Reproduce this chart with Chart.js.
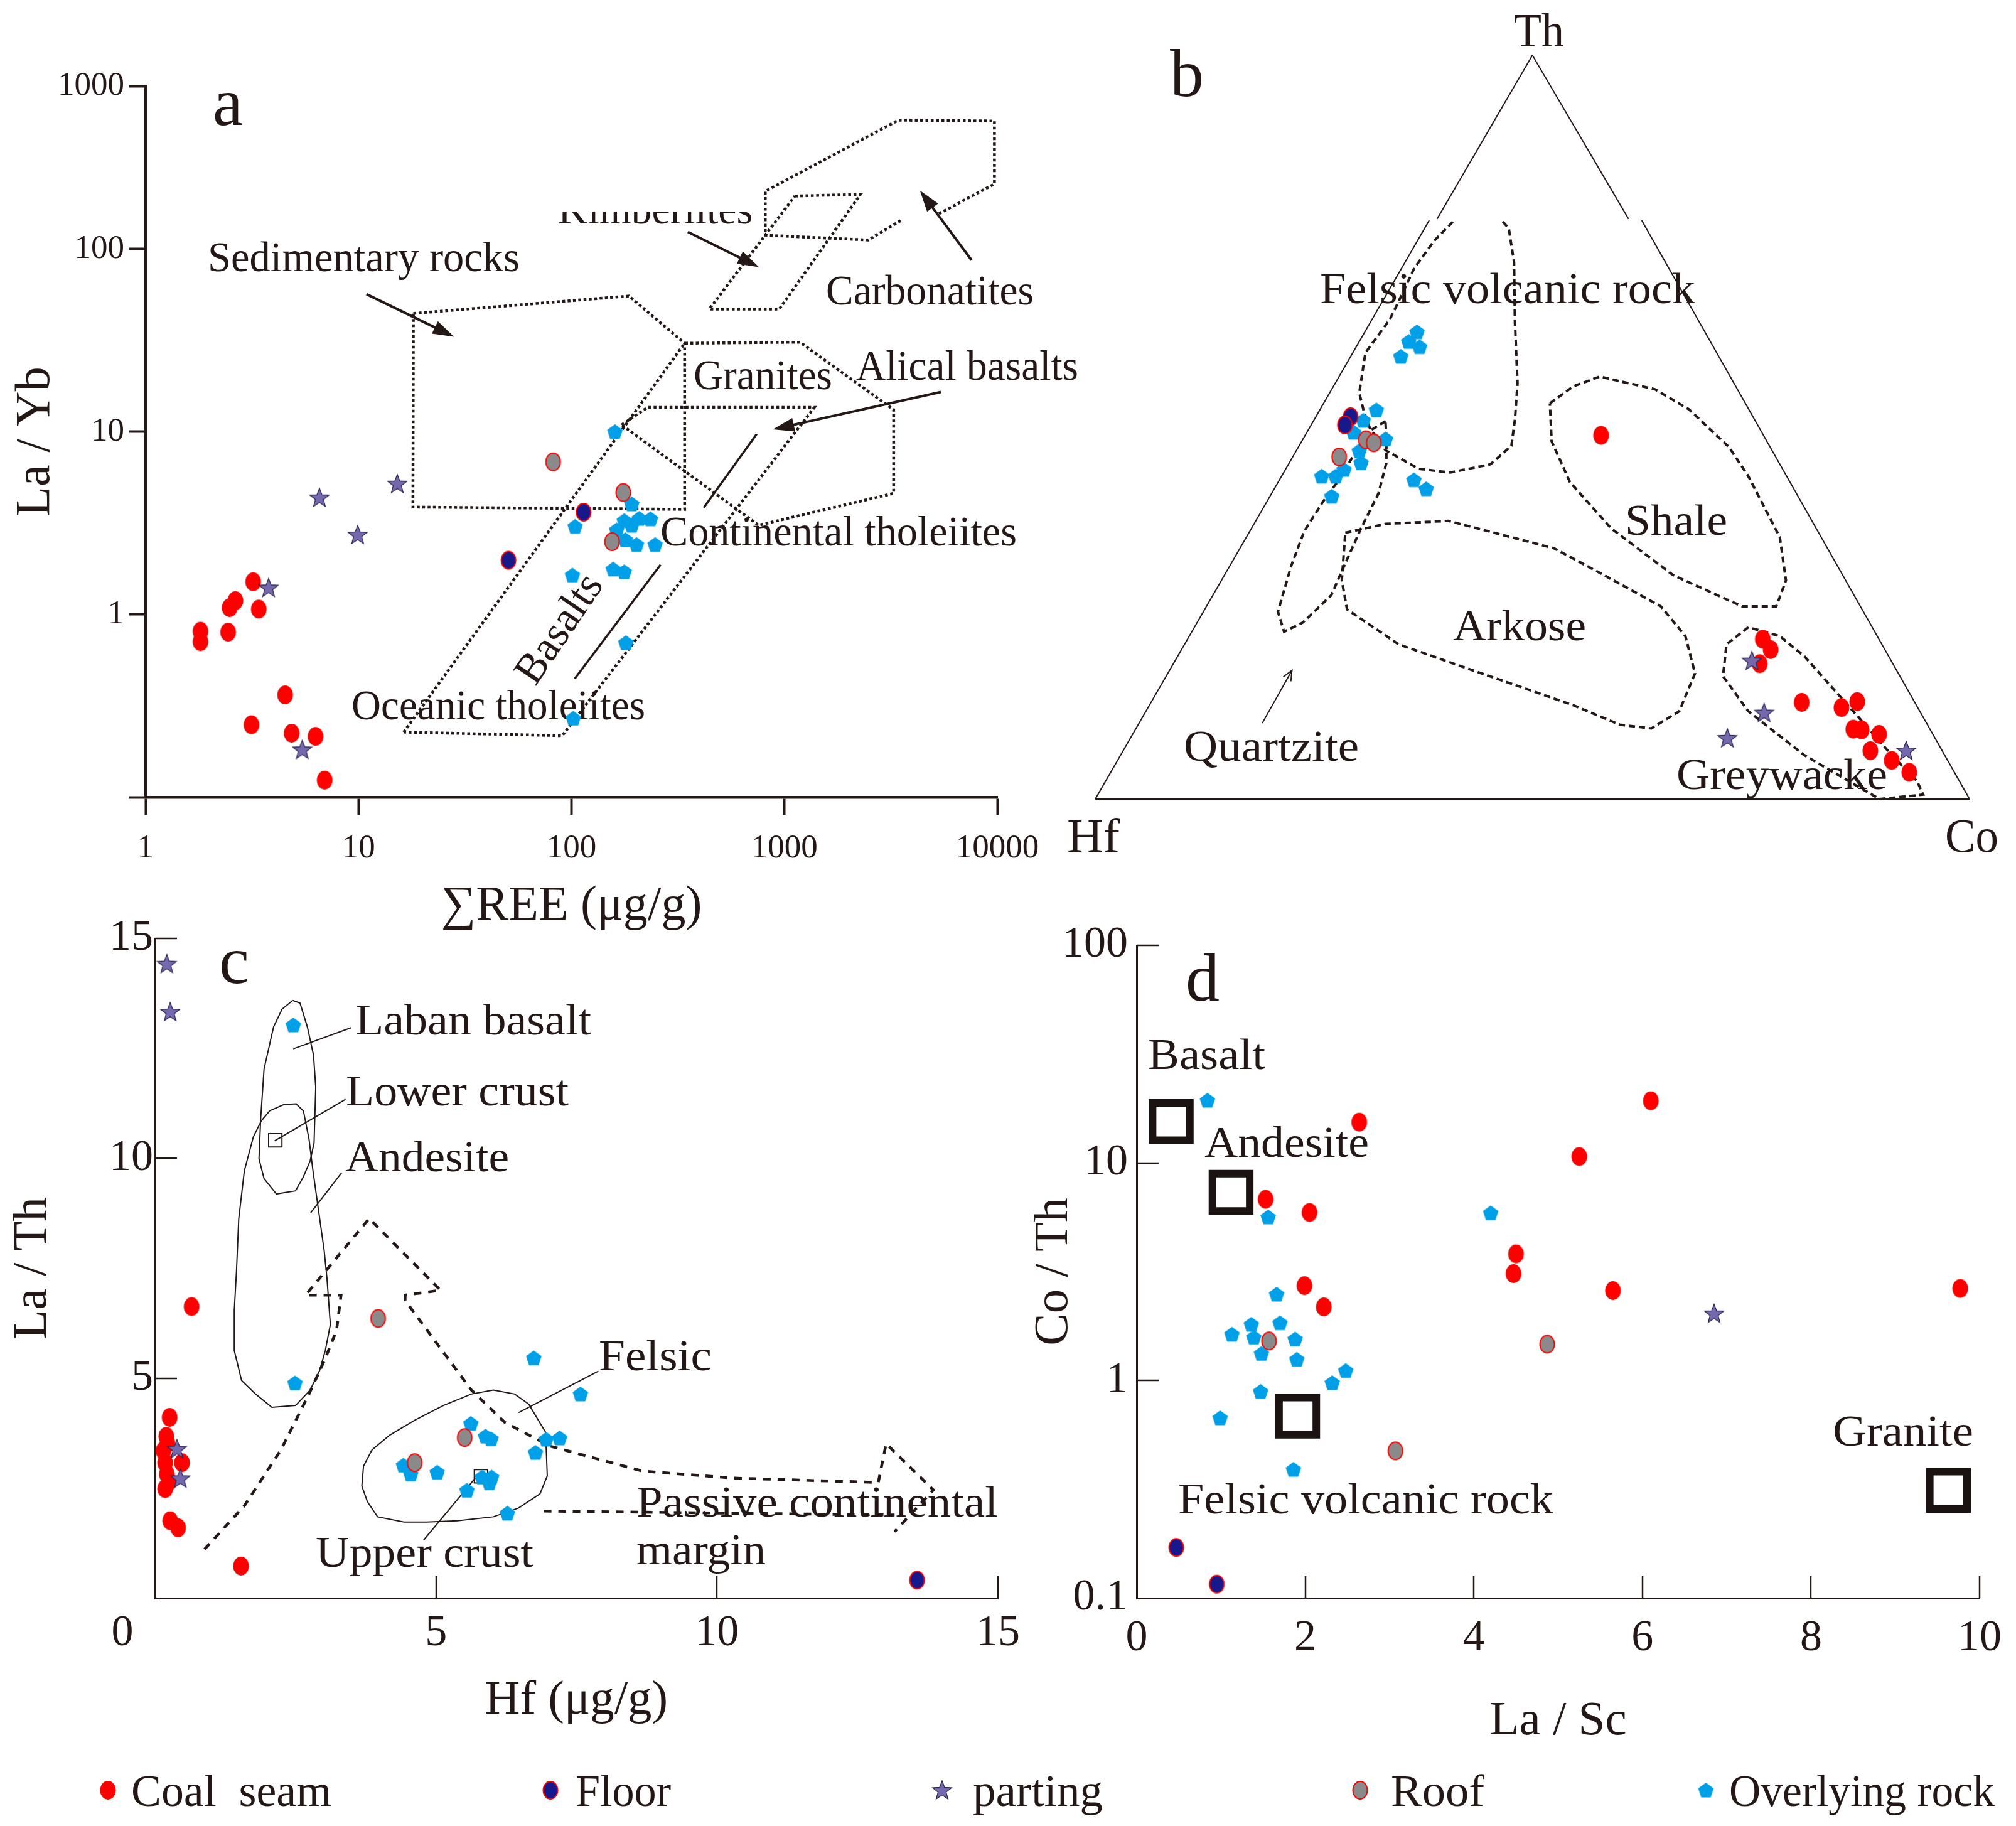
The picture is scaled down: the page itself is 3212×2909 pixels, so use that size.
<!DOCTYPE html>
<html>
<head>
<meta charset="utf-8">
<title>Provenance discrimination diagrams</title>
<script src="https://cdn.jsdelivr.net/npm/chart.js@4.4.1/dist/chart.umd.min.js"></script>
<style>
  html, body { margin: 0; padding: 0; background: #fff; }
  body { position: relative; width: 3212px; height: 2909px; overflow: hidden; }
  canvas { position: absolute; }
</style>
</head>
<body>
<canvas id="chartA" width="1760" height="1500" style="left:0;top:0;width:1760px;height:1500px"></canvas>
<canvas id="chartB" width="1562" height="1450" style="left:1650px;top:0;width:1562px;height:1450px"></canvas>
<canvas id="chartC" width="1650" height="1400" style="left:0;top:1450px;width:1650px;height:1400px"></canvas>
<canvas id="chartD" width="1622" height="1400" style="left:1590px;top:1450px;width:1622px;height:1400px"></canvas>
<canvas id="legend" width="3212" height="129" style="left:0;top:2780px;width:3212px;height:129px"></canvas>
<script>
const INK = '#231815';
const FONT = '"Liberation Serif", "Times New Roman", serif';

// ---------- a: La/Yb vs sum REE ----------
const aCoal = [[1.81,0.81],[1.81,0.71],[2.44,0.80],[2.48,1.09],[2.64,1.19],[3.2,1.51],[3.4,1.07],[4.52,0.363],[3.14,0.249],[4.85,0.224],[6.28,0.215],[6.93,0.124]];
const aFloor = [[50.6,1.98],[114,3.63]];
const aParting = [[3.78,1.40],[6.55,4.36],[9.9,2.73],[15.2,5.19],[5.44,0.182]];
const aRoof = [[82,6.84],[175,4.65],[155,2.5]];
const aOverlying = [[160,10.0],[192,4.02],[104,3.03],[177,3.26],[192,3.07],[208,3.35],[235,3.33],[163,2.9],[179,2.56],[202,2.41],[247,2.41],[101,1.64],[157,1.77],[177,1.71],[180,0.70],[102,0.27]];
const aTicksX = [1, 10, 100, 1000, 10000];
const aTicksY = [0.1, 1, 10, 100, 780];
const aTickLabelsY = ['', '1', '10', '100', '1000'];
// fields
const aSedimentary = [[18.1,44.4],[186,55.3],[340,30.5],[340,3.76],[18.0,3.87],[18.1,44.4]];
const aGranites = [[16.3,0.227],[340,30.5],[1183,30.9],[3260,13.2],[3260,4.60],[756,3.08],[172,10.9]];
const aBasaltBand = [[172,10.9],[228,13.6],[1383,13.6],[90.4,0.217],[16.3,0.227]];
const aCarbonatites = [[3515,143],[2473,112],[813,119],[813,207],[3426,507],[9690,502],[9690,227],[5260,155]];
const aKimberlites = [[1120,195],[2276,199],[946,46.9],[444,46.9],[1120,195]];
const aBasaltLine = [[103.6,0.445],[262,1.87]];
const aContLine = [[418,3.84],[741,9.71]];

// ---------- b: Th-Hf-Co ternary, [Th, Co, Hf] % ----------
const bCoal = [[48.9,33.4,17.7],[21.5,65.6,12.9],[20.1,67.2,12.7],[18.2,66.9,14.9],[13.0,74.3,12.7],[12.3,79.2,8.5],[13.1,80.6,6.3],[9.4,82.0,8.6],[9.3,83.0,7.7],[8.7,85.3,6.0],[6.5,85.4,8.1],[5.2,88.5,6.3],[3.6,91.3,5.1]];
const bFloor = [[51.4,3.5,45.1],[50.3,3.4,46.3]];
const bParting = [[18.6,65.8,15.6],[11.6,70.7,17.7],[8.2,68.2,23.6],[6.5,89.5,4.0]];
const bRoof = [[48.3,6.8,44.9],[47.9,7.9,44.2],[46.0,4.9,49.1]];
const bOverlying = [[62.8,5.4,31.8],[61.5,5.1,33.4],[60.8,6.7,32.5],[59.5,5.2,35.3],[52.3,6.0,41.7],[50.9,5.2,43.9],[49.3,4.9,45.8],[48.4,9.0,42.6],[46.8,6.8,46.4],[45.2,7.8,47.0],[44.3,6.3,49.4],[43.4,5.8,50.8],[43.4,4.2,52.4],[42.9,15.0,42.1],[41.7,17.0,41.3],[40.7,6.7,52.6]];
// fields, in plot frame (x: Hf->Co, y: base->Th)
const bFelsic = [[40.9,77.6],[38.8,75.1],[36.5,71.4],[34.7,66.9],[33.7,64.5],[30.9,60.0],[30.2,54.6],[30.7,52.2],[31.4,49.9],[33.2,46.9],[37.0,44.4],[40.6,43.9],[45.2,45.0],[47.6,47.5],[48.0,51.0],[48.3,55.9],[48.0,64.1],[47.9,72.2],[47.3,76.7],[46.5,77.8]];
const bQuartzite = [[33.2,50.8],[31.4,49.5],[29.7,46.5],[27.8,42.8],[26.0,39.9],[23.9,36.0],[22.4,31.3],[20.9,25.2],[21.6,22.5],[23.7,23.7],[27.0,27.4],[28.0,30.1],[30.4,36.4],[32.4,41.1],[33.3,45.2],[33.3,48.1],[33.2,50.8]];
const bArkose = [[28.6,35.8],[33.2,37.0],[40.4,37.4],[52.5,33.7],[58.2,30.1],[64.7,25.9],[67.5,21.9],[68.6,16.9],[66.8,11.8],[63.6,9.5],[60.0,10.0],[54.7,12.6],[43.2,17.3],[34.7,20.8],[28.8,25.5],[28.2,29.4],[28.6,35.8]];
const bShale = [[52.0,53.2],[54.7,55.5],[57.7,56.8],[64.0,55.1],[67.9,52.4],[72.5,47.3],[74.7,43.4],[78.3,35.2],[79.0,29.4],[77.9,25.9],[74.0,25.9],[66.1,30.1],[59.0,36.4],[54.3,42.6],[52.2,48.1],[52.0,53.2]];
const bGreywacke = [[74.7,23.1],[72.2,20.8],[71.8,16.5],[74.7,11.8],[81.1,5.9],[89.7,0],[94.7,0.6],[94.0,2.4],[91.1,5.9],[87.6,10.6],[81.1,19.2],[78.3,21.9],[74.7,23.1]];
const bEdges = [[[50,100],[39.1,78]],[[38.2,77.8],[0,0]],[[50,100],[61,78]],[[62.5,77.8],[100,0]],[[0,0],[100,0]]];

// ---------- c: La/Th vs Hf ----------
const cCoal = [[0.65,6.63],[0.26,4.11],[0.20,3.68],[0.22,3.52],[0.15,3.35],[0.18,3.08],[0.48,3.08],[0.21,2.82],[0.25,2.65],[0.18,2.49],[0.27,1.76],[0.41,1.60],[1.53,0.73]];
const cFloor = [[13.56,0.41]];
const cParting = [[0.21,14.42],[0.27,13.33],[0.39,3.39],[0.45,2.72]];
const cRoof = [[3.97,6.36],[5.51,3.65],[4.62,3.08]];
const cOverlying = [[2.46,13.03],[2.49,4.89],[6.74,5.46],[7.57,4.64],[5.62,3.97],[5.88,3.68],[5.98,3.62],[6.96,3.61],[7.20,3.64],[6.77,3.31],[4.42,3.02],[4.55,2.82],[5.02,2.86],[5.82,2.75],[5.99,2.75],[5.95,2.62],[5.55,2.45],[6.27,1.93]];
const cCrust = [[2.14,10.41],[5.80,2.77]];
const cTicks = [0, 5, 10, 15];
const cLaban = [[2.45,13.59],[2.58,13.53],[2.71,12.99],[2.82,12.35],[2.86,11.62],[2.83,10.35],[2.76,9.94],[2.64,9.58],[2.50,9.26],[2.16,9.19],[1.94,9.54],[1.85,9.99],[1.88,10.90],[1.94,12.03],[2.11,12.99],[2.26,13.39],[2.45,13.59]];
const cAndesite = [[2.04,11.08],[2.29,11.22],[2.51,11.24],[2.64,11.08],[2.74,10.44],[2.81,9.72],[2.91,8.81],[3.01,7.90],[3.06,7.27],[3.12,6.22],[3.03,5.63],[2.93,5.18],[2.76,4.73],[2.50,4.38],[2.08,4.34],[1.79,4.64],[1.54,4.95],[1.41,5.63],[1.41,6.54],[1.45,7.45],[1.49,8.63],[1.59,9.72],[1.75,10.49],[1.89,10.85],[2.04,11.08]];
const cFelsic = [[3.71,3.00],[3.86,3.37],[4.18,3.71],[4.63,4.05],[5.13,4.38],[5.63,4.64],[6.02,4.73],[6.40,4.64],[6.65,4.41],[6.95,3.77],[6.98,2.78],[6.85,2.37],[6.47,2.05],[6.02,1.85],[5.38,1.76],[4.83,1.73],[4.43,1.73],[3.96,1.85],[3.78,2.19],[3.68,2.55],[3.71,3.00]];
const cArrow = [[0.88,1.11],[1.59,2.10],[2.24,3.37],[2.74,4.64],[3.03,5.45],[3.23,6.09],[3.31,6.89],[2.68,6.89],[3.81,8.63],[5.08,7.00],[4.45,6.89],[4.45,6.77],[5.63,4.73],[6.22,4.00],[7.02,3.46],[8.67,2.89],[10.28,2.73],[12.87,2.63],[13.01,3.51],[13.85,2.46],[13.16,1.51]];
const cMarginLine = [[6.92,1.98],[13.16,1.89]];
const cLeaders = [[[2.46,12.49],[3.49,12.97]],[[2.13,10.40],[3.39,11.34]],[[2.77,8.76],[3.32,9.67]],[[6.47,4.22],[7.89,5.16]],[[4.78,1.32],[5.70,2.73]]];

// ---------- d: Co/Th vs La/Sc ----------
const dCoal = [[2.64,15.4],[6.10,19.3],[5.25,10.7],[1.53,6.81],[2.05,5.92],[4.50,3.82],[4.47,3.10],[5.65,2.59],[9.77,2.65],[1.99,2.73],[2.22,2.18]];
const dFloor = [[0.47,0.171],[0.95,0.116]];
const dParting = [[6.85,2.03]];
const dRoof = [[1.57,1.52],[4.87,1.47],[3.07,0.475]];
const dOverlying = [[0.84,19.4],[1.56,5.64],[4.20,5.89],[1.66,2.49],[1.36,1.81],[1.70,1.84],[1.13,1.63],[1.39,1.58],[1.88,1.55],[1.48,1.33],[1.90,1.25],[2.48,1.11],[2.32,0.976],[1.47,0.89],[0.99,0.673],[1.86,0.39]];
const dReference = [[0.41,15.5],[1.12,7.33],[1.91,0.686],[9.63,0.313]];
const dTicksX = [0, 2, 4, 6, 8, 10];
const dTicksY = [0.1, 1, 10, 100];

const legendNames = ['Coal  seam', 'Floor', 'parting', 'Roof', 'Overlying rock'];

// ---------- markers ----------
function ellipseMarker(fill, ring) {
  const c = document.createElement('canvas');
  c.width = 28; c.height = 32;
  const g = c.getContext('2d');
  g.beginPath();
  g.ellipse(14, 16, ring ? 11.5 : 12.5, ring ? 14 : 15, 0, 0, Math.PI * 2);
  g.fillStyle = fill;
  g.fill();
  if (ring) { g.lineWidth = 2; g.strokeStyle = ring; g.stroke(); }
  return c;
}
function starMarker() {
  const c = document.createElement('canvas');
  c.width = 34; c.height = 34;
  const g = c.getContext('2d');
  g.beginPath();
  for (let i = 0; i < 10; i++) {
    const r = i % 2 ? 6.8 : 16;
    const a = -Math.PI / 2 + i * Math.PI / 5;
    g.lineTo(17 + r * Math.cos(a), 18 + r * Math.sin(a));
  }
  g.closePath();
  g.fillStyle = '#7568ad';
  g.fill();
  g.lineWidth = 1.3;
  g.strokeStyle = '#2b2550';
  g.stroke();
  return c;
}
function pentMarker() {
  const c = document.createElement('canvas');
  c.width = 27; c.height = 26;
  const g = c.getContext('2d');
  g.beginPath();
  for (let i = 0; i < 5; i++) {
    const a = -Math.PI / 2 + i * 2 * Math.PI / 5;
    g.lineTo(13.5 + 13 * Math.cos(a), 14 + 13 * Math.sin(a));
  }
  g.closePath();
  g.fillStyle = '#00a0e9';
  g.fill();
  return c;
}
const mk = {
  coal: ellipseMarker('#ff0000', null),
  floor: ellipseMarker('#17188c', '#ff0000'),
  part: starMarker(),
  roof: ellipseMarker('#8a8a8a', '#ff0000'),
  over: pentMarker()
};

// ---------- helpers ----------
function xy(arr) { return arr.map(p => ({ x: p[0], y: p[1] })); }
function tern(arr) {
  return arr.map(p => {
    const s = p[0] + p[1] + p[2];
    return { x: (p[1] + p[0] / 2) / s * 100, y: p[0] / s * 100 };
  });
}
function series(data, img) {
  return { data: data, pointStyle: img, pointRadius: 14, pointHoverRadius: 14, clip: false, order: 0 };
}
function path(arr, width, dash) {
  return {
    data: xy(arr), showLine: true, pointRadius: 0, pointHoverRadius: 0,
    borderColor: INK, borderWidth: width, borderDash: dash || [], borderCapStyle: 'butt',
    tension: 0, fill: false, clip: false, order: 5
  };
}
function pointSets(coal, floor, part, roof, over) {
  // first dataset is drawn on top
  return [series(part, mk.part), series(roof, mk.roof), series(floor, mk.floor), series(over, mk.over), series(coal, mk.coal)];
}

function drawText(ctx, t) {
  ctx.save();
  if (t.clipTop !== undefined) {
    ctx.beginPath();
    ctx.rect(0, t.clipTop, ctx.canvas.width, ctx.canvas.height);
    ctx.clip();
  }
  ctx.font = t.size + 'px ' + FONT;
  ctx.fillStyle = INK;
  ctx.textBaseline = t.mid ? 'middle' : 'alphabetic';
  ctx.translate(t.x, t.y);
  if (t.rot) ctx.rotate(t.rot * Math.PI / 180);
  const m = ctx.measureText(t.text).width;
  if (t.w) ctx.scale(t.w / m, 1);
  ctx.fillText(t.text, t.mid ? -m / 2 : 0, 0);
  ctx.restore();
}

function drawArrow(ctx, x1, y1, x2, y2, open) {
  const ang = Math.atan2(y2 - y1, x2 - x1);
  const L = open ? 16 : 34, H = open ? 7 : 11;
  const cos = Math.cos(ang), sin = Math.sin(ang);
  ctx.lineWidth = open ? 2 : 4;
  ctx.beginPath();
  ctx.moveTo(x1, y1);
  ctx.lineTo(open ? x2 : x2 - L * 0.8 * cos, open ? y2 : y2 - L * 0.8 * sin);
  ctx.stroke();
  const bx = x2 - L * cos, by = y2 - L * sin;
  const nx = -sin * H, ny = cos * H;
  ctx.beginPath();
  if (open) {
    ctx.moveTo(bx + nx, by + ny); ctx.lineTo(x2, y2); ctx.lineTo(bx - nx, by - ny); ctx.stroke();
  } else {
    ctx.moveTo(x2, y2); ctx.lineTo(bx + nx, by + ny); ctx.lineTo(bx - nx, by - ny); ctx.closePath(); ctx.fill();
  }
}

// texts under the marks, arrows and inner tick marks on top
function overlay(cfg) {
  return {
    id: 'overlay',
    beforeDatasetsDraw(chart) {
      (cfg.texts || []).forEach(t => drawText(chart.ctx, t));
    },
    afterDatasetsDraw(chart) {
      const ctx = chart.ctx, sx = chart.scales.x, sy = chart.scales.y, area = chart.chartArea;
      ctx.save();
      ctx.strokeStyle = INK;
      ctx.fillStyle = INK;
      ctx.lineWidth = 2.5;
      (cfg.innerX || []).forEach(v => {
        const p = Math.round(sx.getPixelForValue(v));
        ctx.beginPath(); ctx.moveTo(p, area.bottom); ctx.lineTo(p, area.bottom - cfg.tick); ctx.stroke();
      });
      (cfg.innerY || []).forEach(v => {
        const p = Math.round(sy.getPixelForValue(v));
        ctx.beginPath(); ctx.moveTo(area.left, p); ctx.lineTo(area.left + cfg.tick, p); ctx.stroke();
      });
      (cfg.arrows || []).forEach(a => {
        drawArrow(ctx, sx.getPixelForValue(a.from[0]), sy.getPixelForValue(a.from[1]),
          sx.getPixelForValue(a.to[0]), sy.getPixelForValue(a.to[1]), a.open);
      });
      ctx.restore();
    }
  };
}

const baseOptions = {
  responsive: false,
  animation: false,
  devicePixelRatio: 1,
  events: [],
  plugins: { legend: { display: false }, tooltip: { enabled: false } }
};

// ---------- chart a ----------
new Chart(document.getElementById('chartA'), {
  type: 'scatter',
  data: {
    datasets: pointSets(xy(aCoal), xy(aFloor), xy(aParting), xy(aRoof), xy(aOverlying)).concat([
      path(aSedimentary, 4.5, [4.5, 4]),
      path(aGranites, 4.5, [4.5, 4]),
      path(aBasaltBand, 4.5, [4.5, 4]),
      path(aCarbonatites, 4.5, [4.5, 4]),
      path(aKimberlites, 4.5, [4.5, 4]),
      path(aBasaltLine, 3.5),
      path(aContLine, 3.5)
    ])
  },
  options: Object.assign({}, baseOptions, {
    layout: { padding: { left: 0, top: 137, right: 171, bottom: 0 } },
    scales: {
      x: {
        type: 'logarithmic', min: 1, max: 10000,
        afterBuildTicks: s => { s.ticks = aTicksX.map(v => ({ value: v })); },
        afterFit: s => { s.height = 230; },
        ticks: { callback: v => String(v), color: INK, font: { family: FONT, size: 53 }, padding: 22, maxRotation: 0, autoSkip: false },
        grid: { display: true, drawOnChartArea: false, drawTicks: true, tickLength: 28, tickWidth: 4, tickColor: INK, color: INK },
        border: { display: true, color: INK, width: 4.5 },
        title: { display: true, text: '\u2211REE (\u03bcg/g)', color: INK, font: { family: FONT, size: 78 }, padding: { top: 0, bottom: 9 } }
      },
      y: {
        type: 'logarithmic', min: 0.1, max: 780,
        afterBuildTicks: s => { s.ticks = aTicksY.map(v => ({ value: v })); },
        afterFit: s => { s.width = 232; },
        ticks: { callback: (v, i) => aTickLabelsY[i], color: INK, font: { family: FONT, size: 53 }, padding: 7, autoSkip: false },
        grid: { display: true, drawOnChartArea: false, drawTicks: true, tickLength: 27, tickWidth: 4, tickColor: INK, color: INK },
        border: { display: true, color: INK, width: 4.5 },
        title: { display: true, text: 'La / Yb', color: INK, font: { family: FONT, size: 78 }, padding: { top: 11, bottom: 0 } }
      }
    }
  }),
  plugins: [overlay({
    texts: [
      { text: 'a', x: 339, y: 199, size: 108 },
      { text: 'Sedimentary rocks', x: 331, y: 432, size: 68, w: 497 },
      { text: 'Kimberlites', x: 889, y: 356, size: 68, w: 310, clipTop: 337 },
      { text: 'Carbonatites', x: 1316, y: 485, size: 68, w: 331 },
      { text: 'Granites', x: 1105, y: 620, size: 68, w: 221 },
      { text: 'Alical basalts', x: 1364, y: 605, size: 68, w: 354 },
      { text: 'Continental tholeiites', x: 1052, y: 869, size: 68, w: 568 },
      { text: 'Oceanic tholeiites', x: 560, y: 1146, size: 68, w: 468 },
      { text: 'Basalts', x: 893, y: 1003, size: 68, w: 196, rot: -56, mid: true }
    ],
    arrows: [
      { from: [10.9, 56.6], to: [28.1, 33.1] },
      { from: [352, 124], to: [759, 79.6] },
      { from: [7570, 86.9], to: [4330, 209] },
      { from: [5430, 16.5], to: [883, 10.3] }
    ]
  })]
});

// ---------- chart b ----------
new Chart(document.getElementById('chartB'), {
  type: 'scatter',
  data: {
    datasets: pointSets(tern(bCoal), tern(bFloor), tern(bParting), tern(bRoof), tern(bOverlying))
      .concat(bEdges.map(e => path(e, 2)))
      .concat([bFelsic, bQuartzite, bArkose, bShale, bGreywacke].map(f => path(f, 4, [10, 6])))
  },
  options: Object.assign({}, baseOptions, {
    layout: { padding: { left: 95, right: 74, top: 88, bottom: 177 } },
    scales: {
      x: { type: 'linear', min: 0, max: 100, display: false },
      y: { type: 'linear', min: 0, max: 100, display: false }
    }
  }),
  plugins: [overlay({
    texts: [
      { text: 'b', x: 214, y: 153, size: 108 },
      { text: 'Th', x: 762, y: 74, size: 77, w: 80 },
      { text: 'Hf', x: 50, y: 1357, size: 77, w: 84 },
      { text: 'Co', x: 1449, y: 1357, size: 77, w: 85 },
      { text: 'Felsic volcanic rock', x: 453, y: 483, size: 70, w: 598 },
      { text: 'Shale', x: 939, y: 852, size: 70, w: 163 },
      { text: 'Arkose', x: 665, y: 1020, size: 70, w: 212 },
      { text: 'Quartzite', x: 236, y: 1212, size: 70, w: 279 },
      { text: 'Greywacke', x: 1021, y: 1257, size: 70, w: 336 }
    ],
    arrows: [{ from: [19.1, 10.2], to: [22.5, 17.3], open: true }]
  })]
});

// ---------- chart c ----------
new Chart(document.getElementById('chartC'), {
  type: 'scatter',
  data: {
    datasets: pointSets(xy(cCoal), xy(cFloor), xy(cParting), xy(cRoof), xy(cOverlying)).concat([
      { data: xy(cCrust), pointStyle: 'rect', pointRadius: 15, pointBorderWidth: 2, pointBorderColor: INK, pointBackgroundColor: 'rgba(0,0,0,0)', clip: false, order: 3 },
      path(cLaban, 2), path(cAndesite, 2), path(cFelsic, 2),
      path(cArrow, 4.5, [12, 11]), path(cMarginLine, 4.5, [12, 11])
    ]).concat(cLeaders.map(l => path(l, 2)))
  },
  options: Object.assign({}, baseOptions, {
    layout: { padding: { left: 0, top: 41, right: 60, bottom: 0 } },
    scales: {
      x: {
        type: 'linear', min: 0, max: 15,
        afterBuildTicks: s => { s.ticks = cTicks.map(v => ({ value: v })); },
        afterFit: s => { s.height = 304; },
        ticks: { callback: v => v === 0 ? '' : String(v), color: INK, font: { family: FONT, size: 70 }, padding: 15, maxRotation: 0, autoSkip: false },
        grid: { display: false, drawTicks: false },
        border: { display: true, color: INK, width: 3 },
        title: { display: true, text: 'Hf (\u03bcg/g)', color: INK, font: { family: FONT, size: 77 }, padding: { top: 0, bottom: 94 } }
      },
      y: {
        type: 'linear', min: 0, max: 15,
        afterBuildTicks: s => { s.ticks = cTicks.map(v => ({ value: v })); },
        afterFit: s => { s.width = 247; },
        ticks: { callback: v => v === 0 ? '' : String(v), color: INK, font: { family: FONT, size: 70 }, padding: 3, autoSkip: false },
        grid: { display: false, drawTicks: false },
        border: { display: true, color: INK, width: 3 },
        title: { display: true, text: 'La / Th', color: INK, font: { family: FONT, size: 77 }, padding: { top: 7, bottom: 0 } }
      }
    }
  }),
  plugins: [overlay({
    tick: 35, innerX: [5, 10, 15], innerY: [5, 10, 15],
    texts: [
      { text: 'c', x: 349, y: 116, size: 108 },
      { text: 'Laban basalt', x: 566, y: 198, size: 70, w: 376 },
      { text: 'Lower crust', x: 551, y: 311, size: 70, w: 355 },
      { text: 'Andesite', x: 550, y: 416, size: 70, w: 261 },
      { text: 'Felsic', x: 954, y: 733, size: 70, w: 180 },
      { text: 'Passive continental', x: 1014, y: 966, size: 70, w: 576 },
      { text: 'margin', x: 1014, y: 1042, size: 70, w: 206 },
      { text: 'Upper crust', x: 503, y: 1046, size: 70, w: 347 },
      { text: '0', x: 195, y: 1153, size: 70, mid: true }
    ]
  })]
});

// ---------- chart d ----------
new Chart(document.getElementById('chartD'), {
  type: 'scatter',
  data: {
    datasets: pointSets(xy(dCoal), xy(dFloor), xy(dParting), xy(dRoof), xy(dOverlying)).concat([
      { data: xy(dReference), pointStyle: 'rect', pointRadius: 42, pointBorderWidth: 12, pointBorderColor: '#1a1311', pointBackgroundColor: 'rgba(0,0,0,0)', clip: false, order: 3 }
    ])
  },
  options: Object.assign({}, baseOptions, {
    layout: { padding: { left: 0, top: 41, right: 56, bottom: 0 } },
    scales: {
      x: {
        type: 'linear', min: 0, max: 10,
        afterBuildTicks: s => { s.ticks = dTicksX.map(v => ({ value: v })); },
        afterFit: s => { s.height = 304; },
        ticks: { callback: v => String(v), color: INK, font: { family: FONT, size: 70 }, padding: 23, maxRotation: 0, autoSkip: false },
        grid: { display: false, drawTicks: false },
        border: { display: true, color: INK, width: 3 },
        title: { display: true, text: 'La / Sc', color: INK, font: { family: FONT, size: 77 }, padding: { top: 0, bottom: 61 } }
      },
      y: {
        type: 'logarithmic', min: 0.1, max: 100,
        afterBuildTicks: s => { s.ticks = dTicksY.map(v => ({ value: v })); },
        afterFit: s => { s.width = 221; },
        ticks: { callback: v => String(v), color: INK, font: { family: FONT, size: 70 }, padding: 14, autoSkip: false },
        grid: { display: false, drawTicks: false },
        border: { display: true, color: INK, width: 3 },
        title: { display: true, text: 'Co / Th', color: INK, font: { family: FONT, size: 77 }, padding: { top: 44, bottom: 0 } }
      }
    }
  }),
  plugins: [overlay({
    tick: 35, innerX: [2, 4, 6, 8, 10], innerY: [1, 10, 100],
    texts: [
      { text: 'd', x: 299, y: 144, size: 108 },
      { text: 'Basalt', x: 239, y: 253, size: 70, w: 187 },
      { text: 'Andesite', x: 329, y: 393, size: 70, w: 262 },
      { text: 'Felsic volcanic rock', x: 287, y: 961, size: 70, w: 598 },
      { text: 'Granite', x: 1330, y: 853, size: 70, w: 224 }
    ]
  })]
});

// ---------- legend ----------
(function () {
  const ctx = document.getElementById('legend').getContext('2d');
  const markers = [mk.coal, mk.floor, mk.part, mk.roof, mk.over];
  const markX = [172, 877, 1501, 2167, 2718];
  const textX = [209, 917, 1550, 2216, 2755];
  const textW = [319, 152, 207, 149, 423];
  legendNames.forEach((name, i) => {
    const m = markers[i];
    ctx.drawImage(m, markX[i] - m.width / 2, 72 - m.height / 2);
    drawText(ctx, { text: name, x: textX[i], y: 97, size: 72, w: textW[i] });
  });
})();
</script>
</body>
</html>
